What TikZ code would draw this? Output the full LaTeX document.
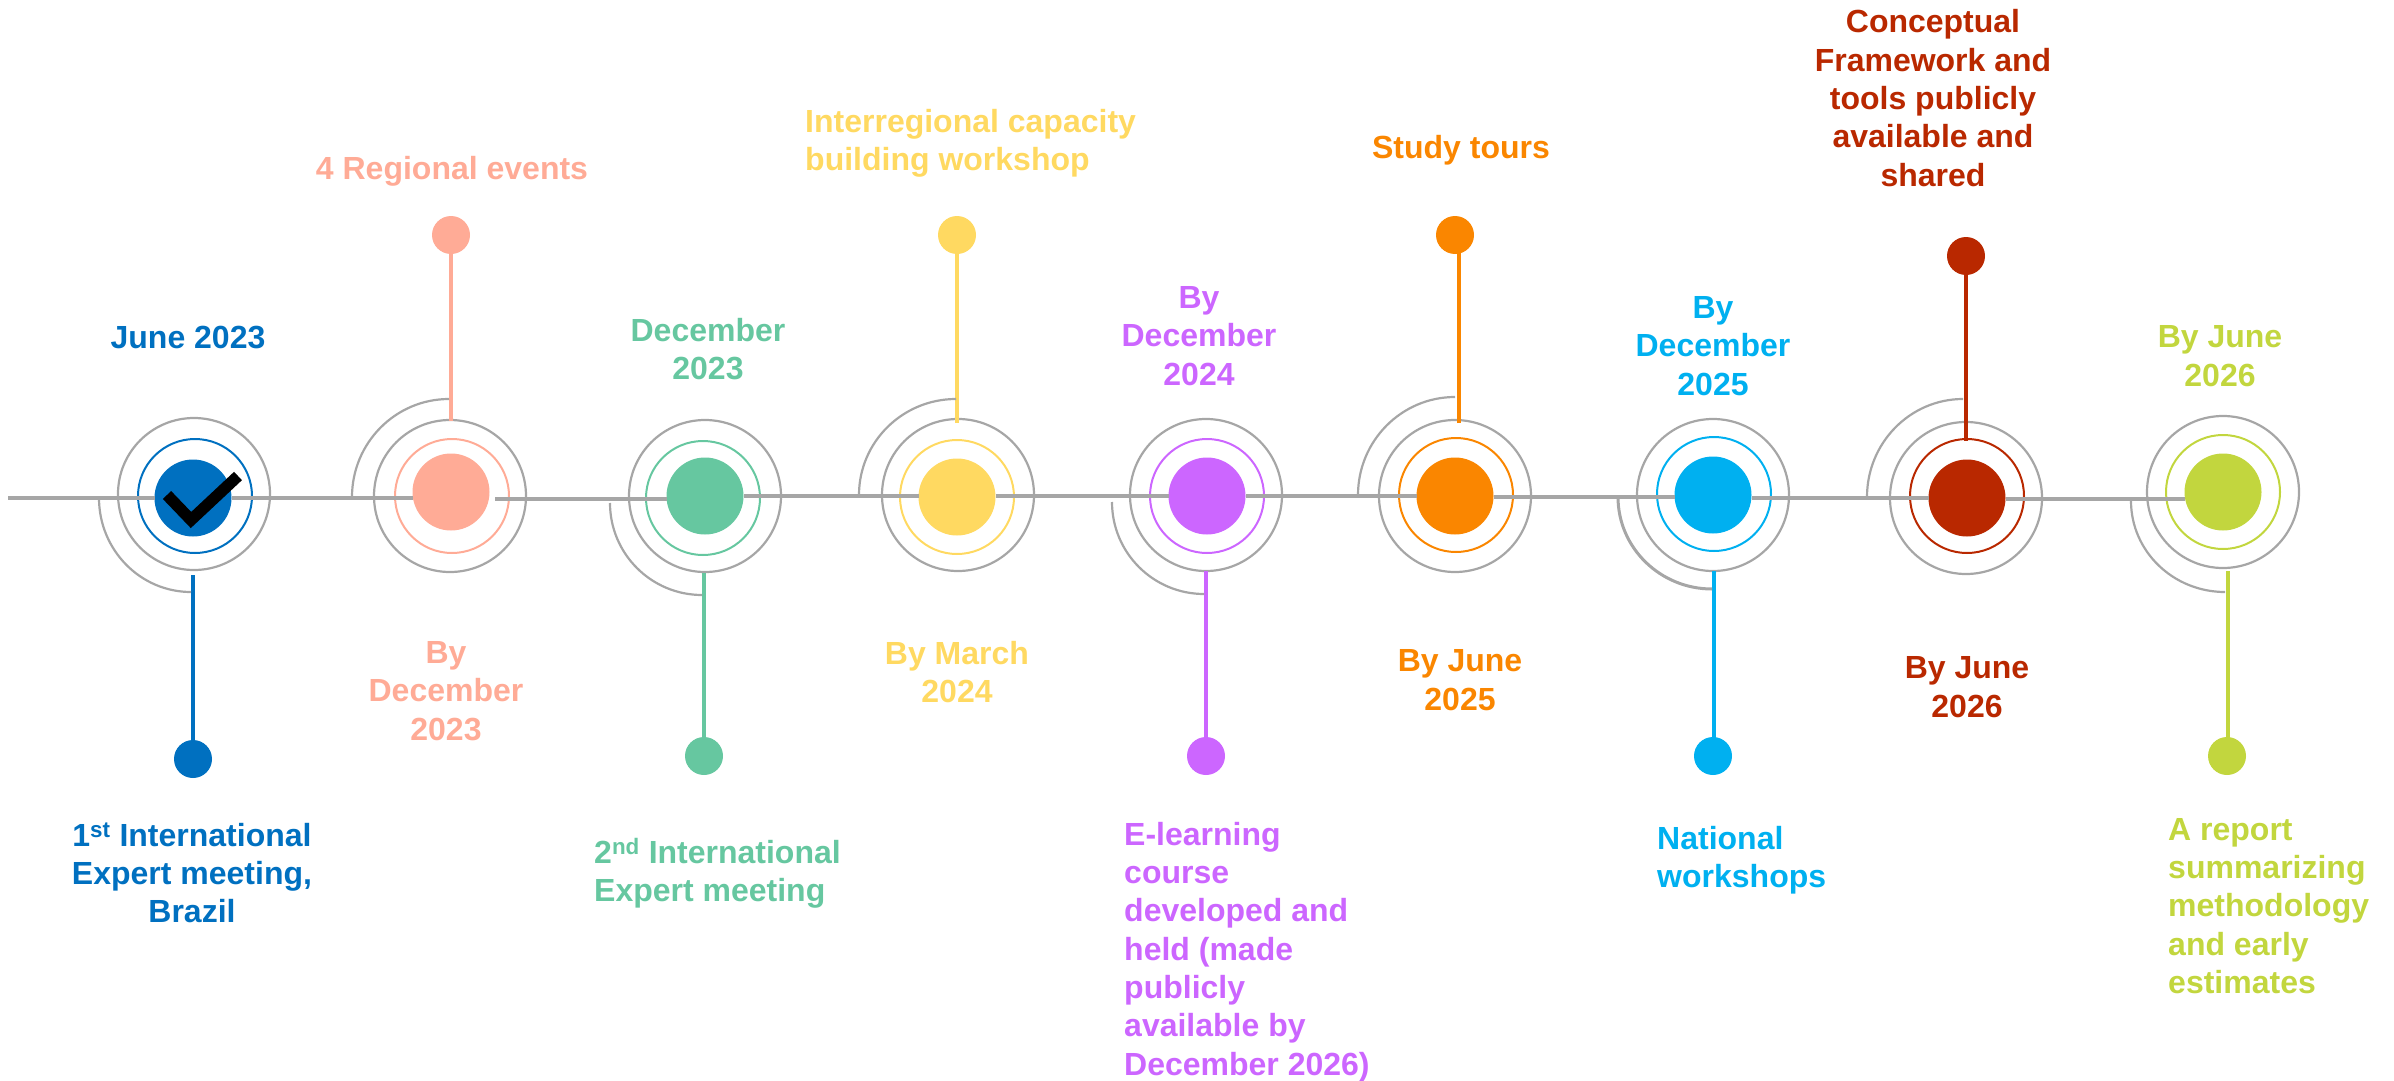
\documentclass[tikz,border=0pt]{standalone}
\usepackage{fontspec}
\setmainfont{Liberation Sans}
\usetikzlibrary{calc}
\definecolor{cA}{HTML}{0070C0}
\definecolor{cB}{HTML}{FFAB96}
\definecolor{cC}{HTML}{66C7A0}
\definecolor{cD}{HTML}{FFD961}
\definecolor{cE}{HTML}{CC66FF}
\definecolor{cF}{HTML}{FA8600}
\definecolor{cG}{HTML}{00B0F0}
\definecolor{cH}{HTML}{B92800}
\definecolor{cI}{HTML}{C2D63E}
\definecolor{lineg}{HTML}{A6A6A6}
\tikzset{
  core/.style={circle,inner sep=0pt,outer sep=0pt,minimum size=77pt,fill=#1},
  innerring/.style={circle,inner sep=0pt,outer sep=0pt,minimum size=114pt,draw=#1,line width=2pt},
  outerring/.style={circle,inner sep=0pt,outer sep=0pt,minimum size=152pt,draw=lineg,line width=2.2pt},
  enddot/.style={circle,inner sep=0pt,outer sep=0pt,minimum size=38pt,fill=#1},
  stem/.style={draw=#1,line width=4.6pt},
  timeline/.style={draw=lineg,line width=4.2pt},
  quarter/.style={draw=lineg,line width=2.2pt},
  lab/.style={text=#1,font=\fontsize{32}{38.3}\selectfont\bfseries,inner sep=0pt},
  labc/.style={lab=#1,align=center},
  labl/.style={lab=#1,align=left,anchor=west},
}
\newcommand{\qarc}[3][quarter]{\draw[#1] (#2) .. controls ($(#2)!.552!(#2|-#3)$) and ($(#3)!.552!(#2|-#3)$) .. (#3);}
\newcommand{\seg}[3]{\draw[timeline] (#1.east|-0,#3) -- (#2.west|-0,#3);}
\begin{document}
\begin{tikzpicture}[x=1pt,y=-1pt]
\useasboundingbox (0,0) rectangle (2394,1081);
% centre discs
\node[core=cA] (f1) at (193,498) {};
\node[core=cB] (f2) at (451,492) {};
\node[core=cC] (f3) at (705,496) {};
\node[core=cD] (f4) at (957,497) {};
\node[core=cE] (f5) at (1207,496) {};
\node[core=cF] (f6) at (1455,496) {};
\node[core=cG] (f7) at (1713,495) {};
\node[core=cH] (f8) at (1967,498) {};
\node[core=cI] (f9) at (2223,492) {};
% inner rings
\node[innerring=cA] (r1) at (195,496) {};
\node[innerring=cB] (r2) at (452,496) {};
\node[innerring=cC] (r3) at (703,498) {};
\node[innerring=cD] (r4) at (957,497) {};
\node[innerring=cE] (r5) at (1207,496) {};
\node[innerring=cF] (r6) at (1456,495) {};
\node[innerring=cG] (r7) at (1714,494) {};
\node[innerring=cH] (r8) at (1967,496) {};
\node[innerring=cI] (r9) at (2223,492) {};
% outer rings
\node[outerring] (g1) at (194,494) {};
\node[outerring] (g2) at (450,496) {};
\node[outerring] (g3) at (705,496) {};
\node[outerring] (g4) at (958,495) {};
\node[outerring] (g5) at (1206,495) {};
\node[outerring] (g6) at (1455,496) {};
\node[outerring] (g7) at (1713,495) {};
\node[outerring] (g8) at (1966,498) {};
\node[outerring] (g9) at (2223,492) {};
% timeline
\coordinate (start) at (8,498);
\draw[timeline] (start) -- (f1.west|-start);
\seg{f1}{f2}{498}
\draw[timeline] (495,499) -- (f3.west|-0,499);
\seg{f3}{f4}{496}
\seg{f4}{f5}{496}
\seg{f5}{f6}{496}
\draw[timeline] (f6.east|-0,497) -- (f7.west|-0,497);
\seg{f7}{f8}{498}
\seg{f8}{f9}{499}
% check mark
\draw[line width=11.5pt,line join=miter] (167,495) -- (191,520) -- (238,476);
% end dots
\node[enddot=cA] (d1) at (193,759) {};
\node[enddot=cB] (d2) at (451,235) {};
\node[enddot=cC] (d3) at (704,756) {};
\node[enddot=cD] (d4) at (957,235) {};
\node[enddot=cE] (d5) at (1206,756) {};
\node[enddot=cF] (d6) at (1455,235) {};
\node[enddot=cG] (d7) at (1713,756) {};
\node[enddot=cH] (d8) at (1966,256) {};
\node[enddot=cI] (d9) at (2227,756) {};
% stems
\coordinate (s1) at (193,575);
\coordinate (s2) at (451,421);
\coordinate (s3) at (704,573);
\coordinate (s4) at (957,423);
\coordinate (s5) at (1206,571);
\coordinate (s6) at (1459,423);
\coordinate (s7) at (1714,571);
\coordinate (s8) at (1966,441);
\coordinate (s9) at (2228,571);
\draw[stem=cA] (s1) -- (s1|-d1);
\draw[stem=cB] (s2) -- (s2|-d2);
\draw[stem=cC] (s3) -- (s3|-d3);
\draw[stem=cD] (s4) -- (s4|-d4);
\draw[stem=cE] (s5) -- (s5|-d5);
\draw[stem=cF] (s6) -- (s6|-d6);
\draw[stem=cG] (s7) -- (s7|-d7);
\draw[stem=cH] (s8) -- (s8|-d8);
\draw[stem=cI] (s9) -- (s9|-d9);
% quarter arcs
\coordinate (a1l) at (99,498);   \coordinate (a1e) at (191,592);
\coordinate (a2l) at (352,497);  \coordinate (a2e) at (449,399);
\coordinate (a3l) at (610,503);  \coordinate (a3e) at (702,595);
\coordinate (a4l) at (859,495);  \coordinate (a4e) at (956,399);
\coordinate (a5l) at (1112,502); \coordinate (a5e) at (1204,594);
\coordinate (a6l) at (1358,495); \coordinate (a6e) at (1455,397);
\coordinate (a7l) at (1618,497); \coordinate (a7e) at (1712,589);
\coordinate (a8l) at (1867,497); \coordinate (a8e) at (1963,399);
\coordinate (a9l) at (2131,501); \coordinate (a9e) at (2225,592);
\qarc{a1l}{a1e}\qarc{a2l}{a2e}\qarc{a3l}{a3e}\qarc{a4l}{a4e}\qarc{a5l}{a5e}
\qarc{a6l}{a6e}\qarc[quarter,line width=3pt]{a7l}{a7e}\qarc{a8l}{a8e}\qarc{a9l}{a9e}
% date labels
\node[labc=cA] (t1) at (188,338) {June 2023};
\node[labc=cB] (t2) at (446,691) {By\\December\\2023};
\node[labc=cC] (t3) at (708,349) {December\\2023};
\node[labc=cD] (t4) at (957,672) {By March\\2024};
\node[labc=cE] (t5) at (1199,336) {By\\December\\2024};
\node[labc=cF] (t6) at (1460,680) {By June\\2025};
\node[labc=cG] (t7) at (1713,346) {By\\December\\2025};
\node[labc=cH] (t8) at (1967,687) {By June\\2026};
\node[labc=cI] (t9) at (2220,356) {By June\\2026};
% activity labels
\node[labc=cA] (u1) at (192,873) {1\textsuperscript{st} International\\Expert meeting,\\Brazil};
\node[labc=cB] (u2) at (452,171) {4 Regional events};
\node[labl=cC] (u3) at (594,873) {2\textsuperscript{nd} International\\Expert meeting};
\node[labl=cD] (u4) at (805,143) {Interregional capacity\\building workshop};
\node[labl=cE] (u5) at (1124,952) {E-learning\\course\\developed and\\held (made\\publicly\\available by\\December 2026)};
\node[labc=cF] (u6) at (1461,150) {Study tours};
\node[labl=cG] (u7) at (1657,860) {National\\workshops};
\node[labc=cH] (u8) at (1933,98) {Conceptual\\Framework and\\tools publicly\\available and\\shared};
\node[labl=cI] (u9) at (2168,906) {A report\\summarizing\\methodology\\and early\\estimates};
\end{tikzpicture}
\end{document}
